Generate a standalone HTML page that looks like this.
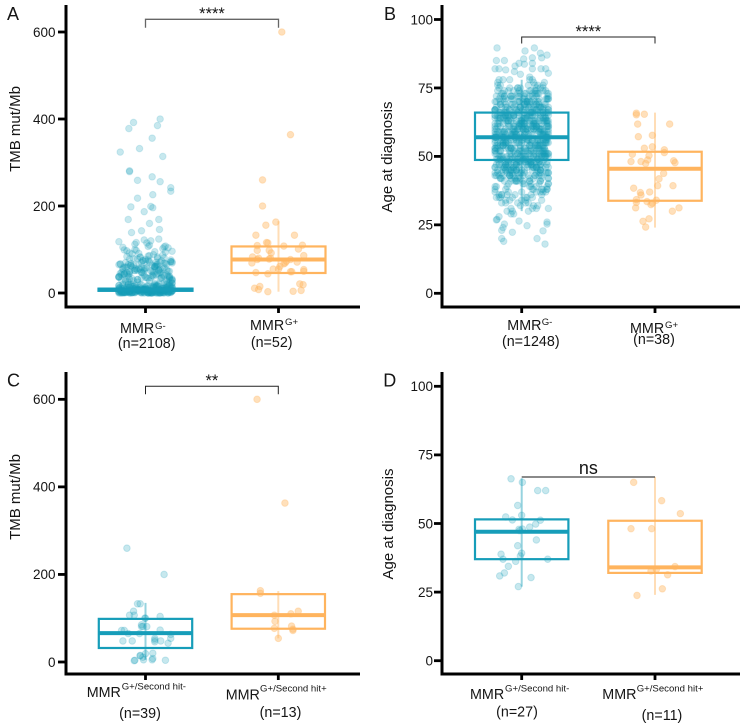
<!DOCTYPE html>
<html lang="en">
<head>
<meta charset="utf-8">
<title>TMB and age at diagnosis by MMR group</title>
<style>
html,body{margin:0;padding:0;background:#fff;}
svg{display:block;font-family:"Liberation Sans",Arial,sans-serif;}
text{fill:#151515;}
</style>
</head>
<body>
<svg id="chart" xmlns="http://www.w3.org/2000/svg" width="740" height="726" viewBox="0 0 740 726"></svg>
<script>
// ---------- shared tick labels ----------
const tmbTicks = [0, 200, 400, 600];
const ageTicks = [0, 25, 50, 75, 100];

// Jitter is expressed as a percentage of the category spacing.
const jitterDense = [-14,7,-3,19,-20,11,2,-9,16,-17,5,-6,13,-1,20,-12,8,-19,3,-15,17,-8,10,-4,20,-11,1,14,-18,6,-2,12,-7,18,-13,4,-20,9,-5,15,-16,0,19,-10,7,-3,13,-20,2,16,-8,11,-14,5,-1,20,-17,8,-6,14,-12,3,18,-19,10,-4,-9,6,15,-15,1,12,-2,17,-11,9,-18,4,-7,20,-13,-5,11,0,16,-16,7,-10,13,-3,19,2,-20,8,-6,14,-12];
const jitterDenseAlt = [9,-16,3,-8,18,-12,0,14,-19,6,-4,20,-10,12,-2,-17,8,15,-6,1,-14,19,-9,4,17,-20,11,-1,-13,7,16,-5,-18,10,2,-11,13,-7,20,-15,5,-3,18,-20,9,-12,14,-1,6,-16,11,-8,3];

// ---------- Panel A values ----------
const valuesA1Sparse = [400,392,385,378,356,332,324,314,281,279,267,259,256,242,234,226,218,198,199,196,187,169,169,160,146,143,139];
const jitterA1Sparse = [11,-9,9,-12.5,5,-4.5,-19,13,-12,-12,5,-6,11,19,19,5.5,-6,-11,4,5.5,-1,-13,10,3,10.5,-3,-10.5];
const valuesA1Mid = [60,95,35,72,118,48,85,28,66,105,40,78,55,122,32,92,62,45,110,70,38,100,52,82,30,68,115,58,42,88,75,34,98,50,65,120,37,80,56,108,44,73,29,90,61,47,102,36,76,53,112,33,84,64,41,96,57,71,31,106,49,86,39,67,124,54,79,43,94,59,35,74,46,104,63,83,30,51,116,69,38,91,55,77,42,99,60,33,87,48,72,107,37,65,52,81,44,97,58,70];
const valuesA1MidExtra = [62,44,70,52,33,78,57,40,66,48,83,29,60,36,74,54,42,68,31,58,46,76,64,35,50,38,71,56,43,61,27,67,47,53,34,63,41,55,72,30,49,59,37,65,45,32,69,51,39,60,46,56,28,66,43,73,52,35,48,36];
const valuesA1Low = [3,12,1,8,17,5,0,10,20,2,14,6,1,9,22,4,15,0,7,11,3,18,1,13,5,0,8,24,2,16,6,1,10,3,19,0,12,4,7,21,1,9,2,15,5,0,11,3,17,8,1,6,13,0,4,23,2,10,7,1,14,3,18,5,0,9,2,12,6,1,16,4,8,0,20,3,11,1,7,15,2,5,0,13,9,3,19,1,6,10,4,0,17,2,8,12,1,5,22,3,14,0,7,2,11,4,16,1,9,6,0,13,3,18,5,1,8,2,10,21];
const valuesA1LowExtra = [6,1,11,3,16,0,8,4,13,2,19,5,1,10,7,0,14,3,25,9,2,12,6,0,17,4,1,8,21,3,11,5,0,15,2,7,1,13,4,27,0,9,6,2,18,3,10,1,5,12,0,8,3,16,2,6,1,23,4,11,0,7,14,2,5,1,9,3,20,0,12,6,2,8,1,15,4,0,10,3,7,26,1,13,5,2,9,0,17,6,3,11,1,4,19,2,8,0,12,5];
const statsA1 = {q1:5, median:7.7, q3:10, low:0, high:15};
const valuesA2 = [600,364,260,200,156,163,133,133,109,98,116,115,98,92,108,110,101,83,80,78,86,77,67,61,55,55,71,54,50,47,44,49,49,11,15,8,3,4,6,21,19,73,69,69,80,77];
const jitterA2 = [2.5,9,-12,-12,-9.5,-2,-17,12,-16,-16,-9,-8,-7,-5.5,4,18,15,-19.5,-15,-7,19,9,4,1,-4,0,14,19,19,-17,-8,9,10,-18,-14,-15,-8,11,17,16,18.5,6,5,-20,-6,-16];
const statsA2 = {q1:46, median:77, q3:107, low:3, high:165};

// ---------- Panel B values ----------
const valuesB1Sparse = [89.6,88.5,89.6,87.7,87,86,85,85,85.6,86,84,83.7,84,83,82,82,81.6,82,82,82,80.4,81,80,27,26.8,25.3,24,23,22.3,20,19,20,18,22.8,26,25.3,24.7,26.4];
const jitterB1Sparse = [-18.5,2.5,9.5,14,19,15,-19,-13,1.5,8,-2,2,8,-5,-20,-17,-12,8,14.5,18,20,-5.5,-1,-18.5,-19,-13,-14,-15,-7,-15,-13.5,11.5,17.5,16,19,19,4,-2];
const valuesB1Dense = [57,63,48,71,39,52,66,44,59,75,33,61,50,68,42,55,78,47,64,36,58,72,51,45,67,30,60,54,74,41,62,49,69,37,56,65,46,77,53,43,70,34,59,63,48,73,40,57,66,51,29,61,55,76,44,68,50,38,64,47,71,53,58,35,62,45,67,79,52,42,60,56,74,49,65,32,54,70,46,63,41,58,72,50,37,66,55,61,43,75,48,69,53,31,59,64,47,73,39,57,51,67,44,62,78,56,36,65,49,71,54,42,60,46,68,52,33,63,58,74,45,50,66,40,61,55,70,48,76,43,64,57,35,53,69,47,62,72,51,38,59,65,44,56,67,49,75,41,60,54,30,63,46,71,58,52,37,68,50,64,43,73,55,61,48,34,66,57,45,70,53,39,62,77,47,59,51,65,42,69,56,74,49,36,63,54,60,44,72,52,67,46,58,33,64,50,41,71,55,61,48,75,38,66,57,43,68,53,62,47,73,51,35,59,65,45,70,56,40,63,49,60,76,54,67,32,58,46,72,52,64,42,69,50,61,37,55,74,48,66,44,57,63,53,71,39,59,47,68,51,62,56,45,65,34,73,50,60,43,67,54,78,46,58,41,70,52,64,36,61,49,55,72,44,66,57,31,63,48,69,53,40,59,75,47,62,51,35,65,56,45,71,54,60,38,67,50,73,43,58,64,52];
const valuesB1DenseExtra = [60,52,68,45,74,56,63,41,70,49,58,66,37,54,72,47,61,51,65,43,78,57,34,69,53,62,46,75,59,40,67,50,64,55,71,44,48,60,31,73,56,66,52,38,62,69,47,58,42,76,54,65,49,61,35,70,57,51,63,45,68,53,74,41,59,48,66,55,28,72,60,46,64,50,39,67,56,77,43,62,52,70,47,58,36,65,54,61,49,73,44,57,68,51,33,63,46,71,55,60,42,66,50,75,53,59,38,64,48,69,56,45,62,52,72,41,58,67,47,54,61,35,65,50,74,57,43,63,49,70,55,60,37,68,46,52,66,59,44,76,53,64,48,30,61,56,71,42,57,65,50,67,45,62,39,54,73,47,59,51,69,34,63,55,58,44,66,49,72,41,60,53,64,46,78,56,38,68,50,62,57,43,70,52,65,47,32,59,74,54,61,45,67,40,55,63,49,71,36,58,51,66,44,60,53,75,48,62,42,69,56,64,46,57,33,72,50,65,52,59,39,68,47,61,55,73,43,63,49,58,29,70,54,66,45,60,51,37,67,57,64,48,76,41,62,53,69,46,59,35,65,50,56,72,44,61,52,38,68,47,63,55,74,42,58,66,49,60,31,71,54,64,45,57,51,67,40,62,53,70,48,59,36,65,56,46,73,43,61,50];
const valuesB1Core = [55,66,49,61,70,46,58,64,52,43,68,56,60,50,72,47,63,54,67,44,59,51,65,48,71,57,62,45,53,69,60,49,66,55,74,46,58,63,51,68,42,61,56,65,47,70,53,59,44,64,50,67,57,48,62,73,52,45,60,55,66,49,69,58,43,63,51,65,54,47,71,56,61,50,68,46,59,64,53,44,72,57,48,62,66,52,60,45,69,55,63,50,67,47,58,41,65,54,70,49,61,56,46,64,52,68,59,43,62,51,73,55,48,66,57,60,45,69,53,63,47,58,50,67,44,61,54,65,49,71,56,46,60,52,68,59,42,64,55,62,48,66,51,70,57,45,63,53,61,49];
const statsB1 = {q1:48.7, median:57, q3:66, low:30, high:78};
const valuesB2 = [65.2,65.8,65.4,61.8,61.8,57.2,57.7,53,53.5,52.4,51.4,50.8,50.3,48.7,48.1,48.1,47.4,48.4,47.7,43.8,41.8,39.3,39.3,38.4,36.8,35.9,37,34.2,33.2,34,33.5,32.9,32.4,31.2,31.2,30,27.2,26.3,24.2];
const jitterB2 = [-14,-14,-8,-13,11,-12.5,-2,-8,-2,7,7,-17,-4.5,-5.5,-18,-10.5,-7,14,15,6.5,3,2,13.5,-16,-11,-10.5,-4,-14,-14,1,-6,-2,-3,-14.5,18,13,-4.5,-9,-7];
const statsB2 = {q1:33.8, median:45.5, q3:51.7, low:24, high:66};

// ---------- Panel C values ----------
const valuesC1 = [260,200,133,133,116,107,107,104,100,100,72,72,65,85,81,81,73,65,63,54,54,48,48,46,48,43,19,20,15,11,4,3,5,5,8,4,81,14,50];
const jitterC1 = [-14,14,-6,-4,-9,-12,-8.5,11,-0.5,0,-18,-16,-13,-3,-2,1,11,-4.5,19,7,19,-17,-10,7,11.5,17,0,5.5,-4,-2,-8,-8.5,-1.5,5,5.5,15,-3,-4,7];
const statsC1 = {q1:32, median:66, q3:98.5, low:5, high:135};
const valuesC2 = [600,363,163,157,116,110,107,93,77,82,75,72,54];
const jitterC2 = [-16,5,-13.5,-13.5,15,9.5,-3,-2.5,-3,10,11,11,0];
const statsC2 = {q1:76, median:107, q3:155, low:54, high:162};

// ---------- Panel D values ----------
const valuesD1 = [66.3,65,62,62,56.6,53,52.4,51.3,51.2,49.8,48.7,47.9,48,47.4,44,41.9,39.2,38.8,38.2,37,37,36.2,34.4,32,30.9,30.3,27];
const jitterD1 = [-8,0.5,12,18,-3,0,-12,-7,14,10.5,6,-2,0.5,-1.5,11,-3,0,-15.5,-1,-14,19.5,-4.5,-10,-13,-16.5,7,-2.5];
const statsD1 = {q1:37, median:47, q3:51.5, low:27, high:66.5};
const valuesD2 = [65,58.3,53.6,48.1,48.1,34.3,33.3,32.7,31.3,26.2,23.8];
const jitterD2 = [-16,5,19,-18,-2.5,15,1,-3,9.5,5.5,-13.5];
const statsD2 = {q1:32, median:34, q3:51, low:24, high:67};

// ---------- colours ----------
const TEAL = '#169db9';
const ORANGE = '#ffb45e';

// ---------- layout (pixel geometry, not data) ----------
const panels = [
  {key:'a', letter:'A', lx:7, ly:20, axisX:66, top:5, bottom:307, right:360, y0:293, pxPerUnit:0.435,
   ticks:tmbTicks, tickRight:55.5, title:'TMB mut/Mb', titleX:20, titleY:129, cx:[145.5,278.5], boxHalf:47,
   bracket:{y:19.3, drop:8.4, leftEnd:true, label:'****', labelY:19, size:16.5, color:'#666', width:1.3},
   groups:[
    {color:TEAL, alpha:0.24, rim:0.16, stats:statsA1, clouds:[[valuesA1Sparse,jitterA1Sparse],[valuesA1Mid,jitterDense],[valuesA1MidExtra,jitterDenseAlt],[valuesA1Low,jitterDense],[valuesA1LowExtra,jitterDenseAlt]],
     mmr:{x:120,y:333,sx:155,sy:329,sup:'G-'}, n:{text:'(n=2108)',x:146.7,y:348}},
    {color:ORANGE, alpha:0.42, rim:0.3, stats:statsA2, clouds:[[valuesA2,jitterA2]],
     mmr:{x:250,y:330,sx:285,sy:325,sup:'G+'}, n:{text:'(n=52)',x:271.7,y:347}}
   ]},
  {key:'b', letter:'B', lx:384, ly:20, axisX:442, top:5, bottom:307, right:740, y0:293.3, pxPerUnit:2.738,
   ticks:ageTicks, tickRight:433, title:'Age at diagnosis', titleX:392, titleY:157, cx:[521.7,655], boxHalf:46.7,
   bracket:{y:37, drop:6.5, leftEnd:true, label:'****', labelY:37, size:16.5, color:'#222', width:1},
   groups:[
    {color:TEAL, alpha:0.24, rim:0.16, stats:statsB1, clouds:[[valuesB1Sparse,jitterB1Sparse],[valuesB1Dense,jitterDense],[valuesB1DenseExtra,jitterDenseAlt],[valuesB1Core,jitterDense]],
     mmr:{x:507.3,y:330,sx:541.7,sy:325,sup:'G-'}, n:{text:'(n=1248)',x:530.8,y:346}},
    {color:ORANGE, alpha:0.42, rim:0.3, stats:statsB2, clouds:[[valuesB2,jitterB2]],
     mmr:{x:630,y:333,sx:665,sy:328,sup:'G+'}, n:{text:'(n=38)',x:654,y:344}}
   ]},
  {key:'c', letter:'C', lx:7, ly:386.7, axisX:66, top:372, bottom:674, right:360, y0:662, pxPerUnit:0.4378,
   ticks:tmbTicks, tickRight:55.5, title:'TMB mut/Mb', titleX:20, titleY:497, cx:[145.5,278.3], boxHalf:46.7,
   bracket:{y:386.3, drop:8, leftEnd:true, label:'**', labelY:386, size:16.5, color:'#222', width:1},
   groups:[
    {color:TEAL, alpha:0.24, rim:0.2, stats:statsC1, clouds:[[valuesC1,jitterC1]],
     mmr:{x:86.7,y:697,sx:121.7,sy:689.3,sup:'G+/Second hit-'}, n:{text:'(n=39)',x:140,y:718}},
    {color:ORANGE, alpha:0.42, rim:0.3, stats:statsC2, clouds:[[valuesC2,jitterC2]],
     mmr:{x:225.7,y:699.3,sx:260,sy:691.7,sup:'G+/Second hit+'}, n:{text:'(n=13)',x:280.5,y:717}}
   ]},
  {key:'d', letter:'D', lx:383.3, ly:386.7, axisX:442, top:372, bottom:674, right:740, y0:660.7, pxPerUnit:2.744,
   ticks:ageTicks, tickRight:433, title:'Age at diagnosis', titleX:393, titleY:524, cx:[521.7,655], boxHalf:46.7,
   bracket:{y:477, drop:0, leftEnd:false, label:'ns', labelY:474, size:18, color:'#444', width:1.2},
   groups:[
    {color:TEAL, alpha:0.24, rim:0.2, stats:statsD1, clouds:[[valuesD1,jitterD1]],
     mmr:{x:470,y:699,sx:505,sy:691.7,sup:'G+/Second hit-'}, n:{text:'(n=27)',x:517,y:716.7}},
    {color:ORANGE, alpha:0.42, rim:0.3, stats:statsD2, clouds:[[valuesD2,jitterD2]],
     mmr:{x:602.3,y:699,sx:636.7,sy:691.7,sup:'G+/Second hit+'}, n:{text:'(n=11)',x:662,y:720}}
   ]}
];

const svg = document.getElementById('chart');
const NS = 'http://www.w3.org/2000/svg';

function shape(parent, tag, attrs) {
  const el = document.createElementNS(NS, tag);
  for (const k in attrs) el.setAttribute(k, attrs[k]);
  parent.appendChild(el);
  return el;
}

function label(parent, str, x, y, size, anchor) {
  const el = shape(parent, 'text', {x:x, y:y, 'font-size':size, 'text-anchor':anchor || 'start'});
  el.textContent = str;
  return el;
}

function drawPanel(p) {
  const g = shape(svg, 'g', {});
  
  

  const yScale = v => p.y0 - v * p.pxPerUnit;
  const xScale = (cat, jitterPct) => p.cx[cat] + (jitterPct / 100) * (p.cx[1] - p.cx[0]);

  // panel letter
  const letter = label(g, p.letter, p.lx, p.ly, 18);
  
  

  p.groups.forEach((grp, cat) => {
    const cg = shape(g, 'g', {});
    
    
    const s = grp.stats;
    const cx = xScale(cat, 0);

    const whisker = shape(cg, 'line', {x1:cx, x2:cx, y1:yScale(s.low), y2:yScale(s.high), stroke:grp.color, 'stroke-width':2, 'stroke-opacity':0.45});
    
    

    grp.clouds.forEach(cloud => {
      const vals = cloud[0];
      const jit = cloud[1];
      vals.forEach((v, i) => {
        const pt = shape(cg, 'circle', {cx:xScale(cat, jit[i % jit.length]), cy:yScale(v), r:3.3, fill:grp.color, 'fill-opacity':grp.alpha, stroke:grp.color, 'stroke-opacity':grp.rim, 'stroke-width':1});
        
        
      });
    });

    const box = shape(cg, 'rect', {x:cx - p.boxHalf, y:yScale(s.q3), width:p.boxHalf * 2, height:yScale(s.q1) - yScale(s.q3), fill:'none', stroke:grp.color, 'stroke-width':2.2});
    
    

    const median = shape(cg, 'line', {x1:cx - p.boxHalf, x2:cx + p.boxHalf, y1:yScale(s.median), y2:yScale(s.median), stroke:grp.color, 'stroke-width':4});
    
    

    // x tick
    const xt = shape(g, 'line', {x1:cx, x2:cx, y1:p.bottom, y2:p.bottom + 6, stroke:'#000', 'stroke-width':2.8});
    
    

    // category label
    const mmr = label(g, 'MMR', grp.mmr.x, grp.mmr.y, 14.3);
    
    
    const sup = label(g, grp.mmr.sup, grp.mmr.sx, grp.mmr.sy, 9.6);
    
    
    const nLab = label(g, grp.n.text, grp.n.x, grp.n.y, 14.3, 'middle');
    
    
  });

  // axes
  const yAxis = shape(g, 'line', {x1:p.axisX, x2:p.axisX, y1:p.top, y2:p.bottom + 1.5, stroke:'#000', 'stroke-width':3});
  
  
  const xAxis = shape(g, 'line', {x1:p.axisX - 1.5, x2:p.right, y1:p.bottom, y2:p.bottom, stroke:'#000', 'stroke-width':3});
  
  

  p.ticks.forEach(t => {
    const tick = shape(g, 'line', {x1:p.axisX - 8, x2:p.axisX, y1:yScale(t), y2:yScale(t), stroke:'#000', 'stroke-width':2.8});
    
    
    const tl = label(g, String(t), p.tickRight, yScale(t) + 4.8, 13.5, 'end');
    
    
  });

  // y title
  const title = label(g, p.title, 0, 0, 15, 'middle');
  title.setAttribute('transform', 'translate(' + p.titleX + ',' + p.titleY + ') rotate(-90)');
  
  

  // significance bracket
  const b = p.bracket;
  const xl = xScale(0, 0), xr = xScale(1, 0);
  const d = (b.leftEnd ? 'M' + xl + ' ' + (b.y + b.drop) + 'V' + b.y : 'M' + xl + ' ' + b.y) + 'H' + xr + 'V' + (b.y + b.drop);
  const br = shape(g, 'path', {d:d, fill:'none', stroke:b.color, 'stroke-width':b.width});
  
  
  const sig = label(g, b.label, (xl + xr) / 2, b.labelY, b.size, 'middle');
  
  
}

panels.forEach(drawPanel);
</script>
</body>
</html>
